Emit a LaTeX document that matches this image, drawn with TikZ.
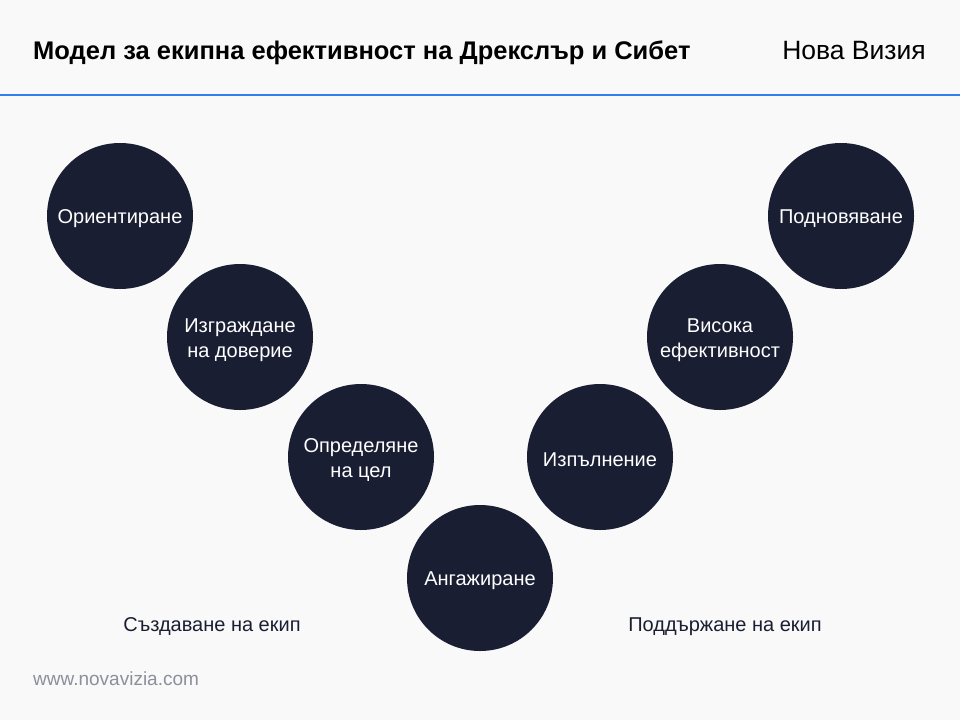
\documentclass[tikz,border=0pt]{standalone}
\usepackage{fontspec}
\setmainfont{Liberation Sans}
\definecolor{bg}{HTML}{F9F9F9}
\definecolor{navy}{HTML}{1A1E33}
\definecolor{blueline}{HTML}{2F7FF0}
\definecolor{footgray}{HTML}{8C8F9C}
\definecolor{labeltext}{HTML}{1A1E33}
\tikzset{
  stage/.style={circle, fill=navy, minimum size=146pt, inner sep=0pt},
  stagetext/.style={text=white, align=center, font=\fontsize{20}{25}\selectfont, yshift=-3pt, inner sep=0pt},
  phase/.style={text=labeltext, font=\fontsize{20}{24}\selectfont, anchor=base, inner sep=0pt},
}
\begin{document}
\begin{tikzpicture}[x=1pt,y=-1pt]
\fill[bg] (0,0) rectangle (960,720);
\useasboundingbox (0,0) rectangle (960,720);
\draw[blueline, line width=2pt] (0,95) -- (960,95);
\node[anchor=base west, font=\bfseries\fontsize{25.5}{30}\selectfont, inner sep=0pt] (title) at (33,59) {Модел за екипна ефективност на Дрекслър и Сибет};
\node[anchor=base east, font=\fontsize{26.5}{30}\selectfont, inner sep=0pt] (brand) at (926,59) {Нова Визия};
\node[stage] (s1) at (120,216) {};
\node[stage] (s2) at (240,337) {};
\node[stage] (s3) at (361,457) {};
\node[stage] (s4) at (480,578) {};
\node[stage] (s5) at (600,457) {};
\node[stage] (s6) at (720,337) {};
\node[stage] (s7) at (841,216) {};
\node[stagetext] (t1) at (s1) {Ориентиране};
\node[stagetext] (t2) at (s2) {Изграждане\\на доверие};
\node[stagetext] (t3) at (s3) {Определяне\\на цел};
\node[stagetext] (t4) at (s4) {Ангажиране};
\node[stagetext] (t5) at (s5) {Изпълнение};
\node[stagetext] (t6) at (s6) {Висока\\ефективност};
\node[stagetext] (t7) at (s7) {Подновяване};
\node[phase] (p1) at (212,631) {Създаване на екип};
\node[phase] (p2) at (725,631) {Поддържане на екип};
\node[anchor=base west, text=footgray, font=\fontsize{19}{22}\selectfont, inner sep=0pt] (foot) at (33,685) {www.novavizia.com};
\end{tikzpicture}
\end{document}
